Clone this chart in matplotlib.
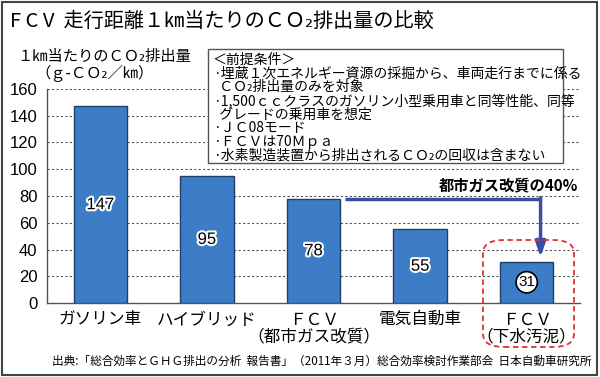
import matplotlib
matplotlib.use("Agg")
import matplotlib.pyplot as plt
import matplotlib.patheffects as pe
from matplotlib.patches import FancyBboxPatch, Rectangle

plt.rcParams['font.family'] = ['Noto Sans CJK JP', 'DejaVu Sans']
NUMF = ['Liberation Sans', 'DejaVu Sans']

categories = ["ガソリン車", "ハイブリッド", "ＦＣＶ\n（都市ガス改質）", "電気自動車", "ＦＣＶ\n（下水汚泥）"]
values = [147, 95, 78, 55, 31]
yticks = [0, 20, 40, 60, 80, 100, 120, 140, 160]

title = "F C V  走行距離１㎞当たりのＣＯ₂排出量の比較"
ylabel1 = "１㎞当たりのＣＯ₂排出量"
ylabel2 = "（ｇ-ＣＯ₂／㎞）"
notes = ["＜前提条件＞",
         "·埋蔵１次エネルギー資源の採掘から、車両走行までに係る",
         "  ＣＯ₂排出量のみを対象",
         "·1,500ｃｃクラスのガソリン小型乗用車と同等性能、同等",
         "  グレードの乗用車を想定",
         "·ＪＣ08モード",
         "·ＦＣＶは70Ｍｐａ",
         "·水素製造装置から排出されるＣＯ₂の回収は含まない"]
arrow_label = "都市ガス改質の40%"
source = "出典:「総合効率とＧＨＧ排出の分析  報告書」（2011年３月）総合効率検討作業部会  日本自動車研究所"

W, H = 600, 377
fig = plt.figure(figsize=(W / 100, H / 100), dpi=100)
fig.patch.set_facecolor("white")
fig.add_artist(Rectangle((0.003, 0.004), 0.992, 0.992, transform=fig.transFigure,
                         fill=False, edgecolor="#444444", linewidth=1.5))

ax = fig.add_axes([47 / W, 1 - 303 / H, (580 - 47) / W, (303 - 89) / H])
x = list(range(len(values)))
ax.bar(x, values, width=0.5, color="#3d7cc7", edgecolor="#1f3f66", linewidth=1.0, zorder=3)
ax.set_xlim(-0.5, len(values) - 0.5)
ax.set_ylim(0, 160)
ax.set_yticks(yticks)
ax.set_yticklabels([str(t) for t in yticks], fontsize=12, family=NUMF)
ax.tick_params(axis='y', length=0, pad=7)
ax.tick_params(axis='x', length=0, pad=6)
ax.set_xticks(x)
ax.set_xticklabels(categories, fontsize=12, linespacing=1.0)
for t in yticks[1:]:
    ax.axhline(t, color="#555555", linestyle=(0, (2, 2)), linewidth=0.8, zorder=1)
for s in ["top", "right"]:
    ax.spines[s].set_visible(False)
for s in ["left", "bottom"]:
    ax.spines[s].set_color("#555555")
    ax.spines[s].set_linewidth(1.0)

# value labels (centered at half bar height)
for i, v in enumerate(values):
    if i == len(values) - 1:
        ax.text(i, v / 2, str(v), ha="center", va="center", fontsize=11, family=NUMF,
                zorder=6,
                bbox=dict(boxstyle="circle,pad=0.14", facecolor="white", edgecolor="black", linewidth=1.2))
    else:
        ax.text(i, v / 2, str(v), ha="center", va="center", fontsize=12, family=NUMF,
                zorder=6, color="black",
                path_effects=[pe.withStroke(linewidth=3, foreground="white")])

# arrow from FCV bar to FCV (sewage)
ax.plot([2.3, 4.13], [values[2], values[2]], color="#3a4ea3", linewidth=2.5, zorder=5,
        solid_capstyle="butt")
ax.annotate("", xy=(4.13, values[4] + 3), xytext=(4.13, values[2] + 0.8),
            arrowprops=dict(arrowstyle="-|>,head_width=0.3,head_length=0.9",
                            color="#3a4ea3", linewidth=2.5, shrinkA=0, shrinkB=0), zorder=5)
ax.text(4.48, 88, arrow_label, ha="right", va="center", fontsize=11, fontweight="bold", zorder=6)

# red dashed rounded box
fig.add_artist(FancyBboxPatch((483 / W, 1 - 347 / H), (574 - 483) / W, (347 - 240) / H,
                              boxstyle="round,pad=0,rounding_size=0.035",
                              transform=fig.transFigure, fill=False, edgecolor="#e0303a",
                              linestyle=(0, (3, 2)), linewidth=1.3, zorder=10))

# notes box
fig.add_artist(Rectangle((208 / W, 1 - 163 / H), (563 - 208) / W, (163 - 49) / H,
                         transform=fig.transFigure, facecolor="white", edgecolor="#555555",
                         linewidth=1.0, zorder=8))
for k, line in enumerate(notes):
    fig.text(213 / W, 1 - (60 + k * 13.6) / H, line, fontsize=10, ha="left", va="center",
             zorder=9)

fig.text(10 / W, 1 - 21 / H, title, fontsize=14.5, ha="left", va="center")
fig.text(17 / W, 1 - 56 / H, ylabel1, fontsize=11, ha="left", va="center")
fig.text(35 / W, 1 - 74 / H, ylabel2, fontsize=11, ha="left", va="center")
fig.text(592 / W, 1 - 361 / H, source, fontsize=8.4, ha="right", va="center")

fig.savefig("out.png", dpi=100)
